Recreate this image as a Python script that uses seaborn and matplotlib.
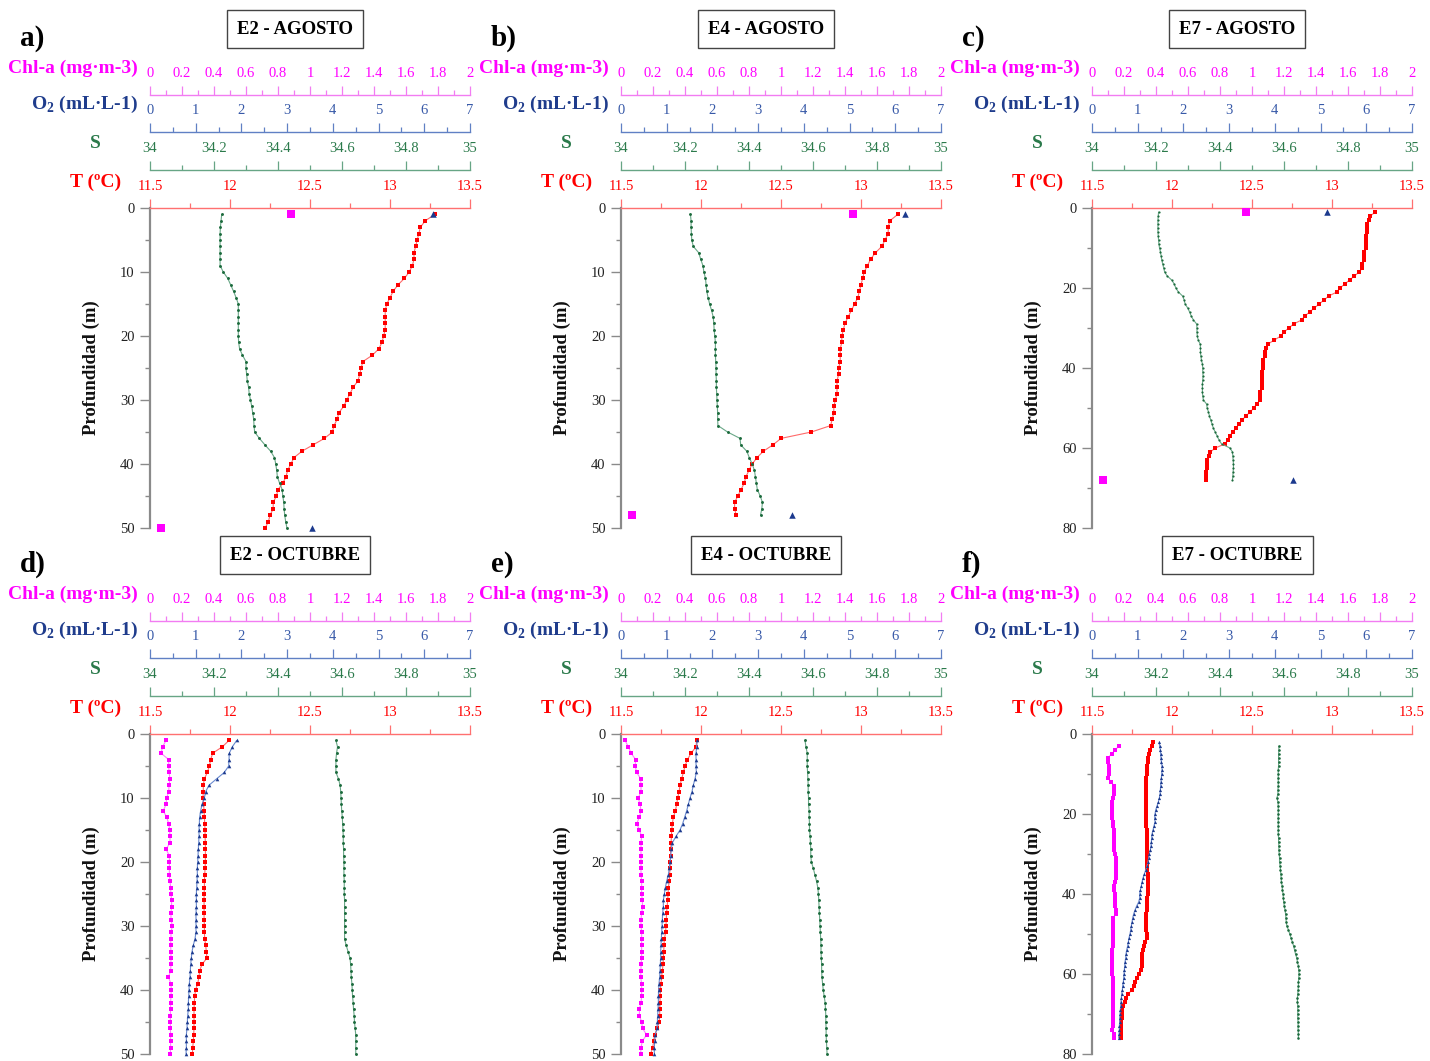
import matplotlib
matplotlib.use("Agg")
import matplotlib.pyplot as plt
from matplotlib.ticker import MultipleLocator, FuncFormatter
import seaborn as sns

sns.set_style("white")
plt.rcParams["font.family"] = ["Liberation Serif", "DejaVu Serif"]
plt.rcParams["mathtext.fontset"] = "custom"
plt.rcParams["mathtext.rm"] = "Liberation Serif"
plt.rcParams["mathtext.bf"] = "Liberation Serif:bold"

# ---------------- data ----------------
# E2 - AGOSTO  (CTD every 1 m, 1-50 m)
depth_a = list(range(1, 51))
temp_a = [13.28, 13.22, 13.19, 13.18, 13.17, 13.16, 13.15, 13.15, 13.14, 13.12,
          13.09, 13.05, 13.02, 13.00, 12.98, 12.97, 12.97, 12.97, 12.97, 12.96,
          12.95, 12.93, 12.89, 12.83, 12.82, 12.81, 12.80, 12.77, 12.75, 12.73,
          12.71, 12.68, 12.67, 12.65, 12.64, 12.59, 12.52, 12.45, 12.40, 12.38,
          12.36, 12.35, 12.33, 12.30, 12.29, 12.27, 12.27, 12.25, 12.24, 12.22]
sal_a = [34.224, 34.222, 34.220, 34.219, 34.219, 34.219, 34.219, 34.219, 34.219, 34.229,
         34.243, 34.252, 34.261, 34.269, 34.276, 34.276, 34.276, 34.276, 34.276, 34.276,
         34.277, 34.280, 34.289, 34.300, 34.300, 34.302, 34.304, 34.308, 34.310, 34.314,
         34.318, 34.321, 34.324, 34.325, 34.327, 34.342, 34.359, 34.377, 34.389, 34.393,
         34.396, 34.398, 34.405, 34.413, 34.415, 34.418, 34.419, 34.421, 34.424, 34.428]
bottle_depth_a = [1, 50]
oxy_a = [6.18, 3.54]
chl_a = [0.88, 0.07]

# E4 - AGOSTO  (1-48 m)
depth_b = list(range(1, 49))
temp_b = [13.23, 13.18, 13.17, 13.17, 13.15, 13.13, 13.09, 13.06, 13.04, 13.02,
          13.01, 13.00, 12.99, 12.98, 12.96, 12.94, 12.92, 12.90, 12.89, 12.88,
          12.88, 12.87, 12.87, 12.87, 12.86, 12.86, 12.85, 12.85, 12.85, 12.84,
          12.83, 12.83, 12.82, 12.81, 12.69, 12.50, 12.45, 12.39, 12.35, 12.32,
          12.30, 12.28, 12.27, 12.25, 12.23, 12.21, 12.21, 12.22]
sal_b = [34.217, 34.219, 34.219, 34.220, 34.221, 34.226, 34.243, 34.249, 34.256, 34.259,
         34.264, 34.266, 34.268, 34.272, 34.277, 34.283, 34.288, 34.290, 34.291, 34.293,
         34.295, 34.295, 34.295, 34.296, 34.297, 34.297, 34.298, 34.298, 34.299, 34.300,
         34.301, 34.302, 34.302, 34.303, 34.333, 34.372, 34.374, 34.393, 34.401, 34.410,
         34.417, 34.420, 34.423, 34.426, 34.435, 34.442, 34.440, 34.436]
bottle_depth_b = [1, 48]
oxy_b = [6.22, 3.75]
chl_b = [1.45, 0.07]

# E7 - AGOSTO  (1-68 m)
depth_c = list(range(1, 69))
temp_c = [13.27, 13.24, 13.23, 13.22, 13.22, 13.22, 13.21, 13.21, 13.21, 13.21,
          13.20, 13.20, 13.20, 13.19, 13.19, 13.17, 13.14, 13.11, 13.08, 13.05,
          13.03, 12.98, 12.95, 12.92, 12.89, 12.86, 12.83, 12.81, 12.76, 12.73,
          12.70, 12.68, 12.64, 12.60, 12.59, 12.58, 12.58, 12.57, 12.57, 12.57,
          12.56, 12.56, 12.56, 12.56, 12.56, 12.55, 12.55, 12.55, 12.53, 12.51,
          12.49, 12.46, 12.44, 12.42, 12.40, 12.38, 12.36, 12.35, 12.33, 12.27,
          12.24, 12.23, 12.22, 12.22, 12.22, 12.21, 12.21, 12.21]
sal_c = [34.208, 34.207, 34.206, 34.206, 34.206, 34.206, 34.207, 34.208, 34.209, 34.211,
         34.214, 34.216, 34.218, 34.221, 34.224, 34.227, 34.235, 34.249, 34.257, 34.262,
         34.270, 34.283, 34.288, 34.291, 34.299, 34.305, 34.310, 34.317, 34.327, 34.328,
         34.328, 34.329, 34.332, 34.338, 34.339, 34.339, 34.340, 34.342, 34.345, 34.346,
         34.346, 34.347, 34.346, 34.345, 34.345, 34.345, 34.346, 34.348, 34.358, 34.360,
         34.364, 34.367, 34.371, 34.375, 34.379, 34.385, 34.391, 34.397, 34.405, 34.431,
         34.439, 34.440, 34.441, 34.442, 34.442, 34.441, 34.440, 34.439]
bottle_depth_c = [1, 68]
oxy_c = [5.14, 4.40]
chl_c = [0.96, 0.07]

# E2 - OCTUBRE  (1-50 m)
depth_d = list(range(1, 51))
temp_d = [11.994, 11.952, 11.892, 11.879, 11.871, 11.858, 11.840, 11.833, 11.833, 11.831,
          11.835, 11.838, 11.840, 11.842, 11.844, 11.844, 11.846, 11.846, 11.846, 11.846,
          11.844, 11.842, 11.840, 11.840, 11.838, 11.838, 11.838, 11.838, 11.838, 11.840,
          11.840, 11.842, 11.848, 11.852, 11.856, 11.825, 11.810, 11.806, 11.798, 11.785,
          11.779, 11.777, 11.775, 11.775, 11.775, 11.775, 11.773, 11.771, 11.767, 11.765]
sal_d = [34.581, 34.586, 34.583, 34.581, 34.581, 34.581, 34.589, 34.594, 34.596, 34.597,
         34.598, 34.599, 34.601, 34.602, 34.603, 34.604, 34.604, 34.605, 34.605, 34.606,
         34.606, 34.606, 34.607, 34.607, 34.607, 34.608, 34.608, 34.608, 34.608, 34.608,
         34.608, 34.608, 34.613, 34.619, 34.625, 34.627, 34.628, 34.629, 34.631, 34.632,
         34.633, 34.635, 34.636, 34.638, 34.639, 34.641, 34.643, 34.643, 34.643, 34.643]
oxy_d = [1.896, 1.801, 1.735, 1.728, 1.721, 1.626, 1.458, 1.291, 1.218, 1.189,
         1.138, 1.108, 1.086, 1.079, 1.072, 1.072, 1.065, 1.057, 1.050, 1.043,
         1.035, 1.035, 1.028, 1.021, 1.014, 1.014, 1.014, 1.006, 1.006, 1.006,
         1.006, 0.984, 0.948, 0.919, 0.904, 0.890, 0.882, 0.875, 0.860, 0.853,
         0.846, 0.839, 0.839, 0.824, 0.817, 0.809, 0.795, 0.795, 0.795, 0.788]
chl_d = [0.100, 0.079, 0.069, 0.117, 0.117, 0.119, 0.125, 0.119, 0.117, 0.104,
         0.100, 0.083, 0.104, 0.117, 0.123, 0.125, 0.125, 0.100, 0.121, 0.121,
         0.121, 0.121, 0.125, 0.129, 0.131, 0.135, 0.135, 0.131, 0.131, 0.140,
         0.131, 0.131, 0.129, 0.131, 0.131, 0.131, 0.129, 0.115, 0.131, 0.133,
         0.131, 0.129, 0.129, 0.127, 0.127, 0.127, 0.129, 0.129, 0.129, 0.127]

# E4 - OCTUBRE  (1-50 m)
depth_e = list(range(1, 51))
temp_e = [11.973, 11.969, 11.938, 11.915, 11.900, 11.890, 11.879, 11.869, 11.863, 11.854,
          11.848, 11.840, 11.827, 11.821, 11.817, 11.815, 11.813, 11.810, 11.810, 11.808,
          11.806, 11.804, 11.802, 11.796, 11.794, 11.792, 11.788, 11.785, 11.783, 11.781,
          11.779, 11.771, 11.769, 11.767, 11.765, 11.763, 11.758, 11.754, 11.750, 11.746,
          11.744, 11.744, 11.742, 11.742, 11.738, 11.727, 11.710, 11.704, 11.698, 11.685]
sal_e = [34.575, 34.578, 34.582, 34.582, 34.582, 34.583, 34.584, 34.585, 34.585, 34.586,
         34.586, 34.588, 34.588, 34.589, 34.589, 34.591, 34.592, 34.593, 34.593, 34.595,
         34.601, 34.606, 34.611, 34.615, 34.617, 34.618, 34.619, 34.620, 34.621, 34.622,
         34.623, 34.624, 34.625, 34.625, 34.626, 34.627, 34.627, 34.628, 34.630, 34.632,
         34.635, 34.638, 34.639, 34.640, 34.640, 34.641, 34.641, 34.642, 34.643, 34.644]
oxy_e = [1.670, 1.655, 1.641, 1.641, 1.641, 1.648, 1.619, 1.582, 1.553, 1.509,
         1.473, 1.436, 1.393, 1.349, 1.291, 1.203, 1.123, 1.101, 1.087, 1.072,
         1.057, 1.035, 0.999, 0.970, 0.948, 0.926, 0.926, 0.911, 0.904, 0.897,
         0.890, 0.882, 0.875, 0.868, 0.868, 0.860, 0.853, 0.846, 0.831, 0.824,
         0.817, 0.817, 0.809, 0.802, 0.795, 0.788, 0.751, 0.736, 0.729, 0.729]
chl_e = [0.025, 0.046, 0.063, 0.092, 0.088, 0.098, 0.123, 0.125, 0.125, 0.108,
         0.119, 0.125, 0.115, 0.098, 0.115, 0.129, 0.125, 0.125, 0.125, 0.125,
         0.125, 0.125, 0.129, 0.129, 0.129, 0.133, 0.135, 0.129, 0.125, 0.125,
         0.129, 0.129, 0.129, 0.129, 0.129, 0.125, 0.125, 0.123, 0.129, 0.129,
         0.129, 0.125, 0.115, 0.115, 0.129, 0.135, 0.160, 0.133, 0.125, 0.123]

# E7 - OCTUBRE  (T, O2: 2-76 m ; S, Chl-a: 3-76 m)
depth_f_to = list(range(2, 77))
depth_f_sc = list(range(3, 77))
temp_f = [11.883, 11.873, 11.865, 11.856, 11.852, 11.848, 11.846, 11.844, 11.842, 11.840,
          11.838, 11.835, 11.835, 11.835, 11.835, 11.835, 11.838, 11.838, 11.838, 11.840,
          11.840, 11.840, 11.842, 11.844, 11.844, 11.844, 11.844, 11.844, 11.844, 11.844,
          11.846, 11.846, 11.846, 11.848, 11.848, 11.848, 11.848, 11.848, 11.848, 11.846,
          11.844, 11.842, 11.842, 11.840, 11.838, 11.838, 11.838, 11.840, 11.844, 11.844,
          11.831, 11.823, 11.817, 11.815, 11.813, 11.810, 11.810, 11.806, 11.794, 11.781,
          11.771, 11.763, 11.748, 11.727, 11.713, 11.704, 11.696, 11.690, 11.685, 11.685,
          11.683, 11.683, 11.683, 11.683, 11.681]
oxy_f = [1.473, 1.480, 1.495, 1.502, 1.509, 1.517, 1.531, 1.531, 1.524, 1.517,
         1.509, 1.502, 1.495, 1.488, 1.473, 1.451, 1.422, 1.393, 1.378, 1.371,
         1.378, 1.356, 1.334, 1.313, 1.305, 1.298, 1.291, 1.276, 1.254, 1.240,
         1.225, 1.203, 1.174, 1.145, 1.116, 1.094, 1.079, 1.057, 1.043, 1.043,
         1.021, 0.977, 0.941, 0.911, 0.890, 0.875, 0.860, 0.846, 0.831, 0.809,
         0.795, 0.780, 0.758, 0.744, 0.737, 0.722, 0.715, 0.707, 0.700, 0.693,
         0.685, 0.671, 0.664, 0.649, 0.642, 0.634, 0.627, 0.620, 0.613, 0.605,
         0.605, 0.598, 0.598, 0.591, 0.583]
sal_f = [34.584, 34.584, 34.583, 34.583, 34.583, 34.583, 34.582, 34.582, 34.582, 34.582,
         34.582, 34.581, 34.581, 34.578, 34.581, 34.582, 34.582, 34.582, 34.582, 34.582,
         34.582, 34.582, 34.582, 34.583, 34.583, 34.584, 34.584, 34.585, 34.586, 34.586,
         34.588, 34.589, 34.590, 34.591, 34.592, 34.594, 34.595, 34.597, 34.598, 34.599,
         34.601, 34.603, 34.605, 34.606, 34.607, 34.609, 34.614, 34.618, 34.622, 34.626,
         34.630, 34.633, 34.636, 34.640, 34.642, 34.645, 34.646, 34.647, 34.646, 34.645,
         34.645, 34.644, 34.643, 34.642, 34.642, 34.643, 34.643, 34.643, 34.643, 34.644,
         34.644, 34.644, 34.645, 34.645]
chl_f = [0.169, 0.144, 0.123, 0.098, 0.102, 0.106, 0.106, 0.106, 0.102, 0.119,
         0.140, 0.140, 0.135, 0.131, 0.127, 0.123, 0.123, 0.127, 0.127, 0.131,
         0.131, 0.135, 0.135, 0.135, 0.135, 0.140, 0.140, 0.144, 0.148, 0.148,
         0.148, 0.152, 0.152, 0.148, 0.144, 0.140, 0.140, 0.144, 0.144, 0.144,
         0.146, 0.148, 0.148, 0.131, 0.131, 0.131, 0.131, 0.131, 0.131, 0.129,
         0.129, 0.127, 0.127, 0.127, 0.127, 0.127, 0.127, 0.127, 0.129, 0.129,
         0.131, 0.131, 0.131, 0.131, 0.131, 0.131, 0.133, 0.133, 0.133, 0.133,
         0.129, 0.127, 0.135, 0.140]

# ---------------- style ----------------
T_COL, T_AX, T_LINE = "#ff0000", "#ff7070", "#ff6a6a"
S_COL, S_AX, S_LINE, S_MK = "#2b7a4b", "#67a585", "#6aa888", "#1b6a3c"
O_COL, O_TXT, O_AX, O_LINE, O_MK = "#1f3c8c", "#3759a8", "#6080c4", "#6a8ad0", "#1c3a8e"
C_COL, C_AX, C_LINE = "#ff00ff", "#f27cf2", "#ff80ff"

W, H = 1430, 1061
fig = plt.figure(figsize=(W / 100, H / 100), dpi=100)
fmt = FuncFormatter(lambda v, p: f"{round(v, 3):g}")


def top_scale(ax, lim, major, minor, line_col, text_col, offset):
    ax.set_xlim(*lim)
    for side in ("left", "right", "bottom"):
        ax.spines[side].set_visible(False)
    ax.spines["top"].set_visible(True)
    ax.spines["top"].set_color(line_col)
    ax.spines["top"].set_linewidth(1.0)
    ax.spines["top"].set_position(("outward", offset))
    ax.xaxis.set_ticks_position("top")
    ax.xaxis.set_major_locator(MultipleLocator(major))
    ax.xaxis.set_minor_locator(MultipleLocator(minor))
    ax.xaxis.set_major_formatter(fmt)
    ax.tick_params(axis="x", which="major", direction="out", length=6.5, width=0.9,
                   color=line_col, labelcolor=text_col, labelsize=10.5, pad=4)
    ax.tick_params(axis="x", which="minor", direction="out", length=3.5, width=0.9,
                   color=line_col)
    ax.set_xlabel("")
    ax.set_ylabel("")


def profile(ax, x, y, line_col, mk_col, marker, ms):
    sns.lineplot(x=x, y=y, ax=ax, sort=False, estimator=None, color=line_col,
                 linewidth=0.8, marker=marker, markersize=ms, markerfacecolor=mk_col,
                 markeredgecolor=mk_col, markeredgewidth=0, clip_on=False)


def panel(left, top, letter, title, dmax, dstep, temp, sal, oxy, chl, bottles, ms):
    ax = fig.add_axes([left / W, 1 - (top + 320) / H, 320 / W, 320 / H])
    ax_s = ax.twiny()
    ax_o = ax.twiny()
    ax_c = ax.twiny()

    profile(ax, temp[1], temp[0], T_LINE, T_COL, "s", 3.0 * ms)
    profile(ax_s, sal[1], sal[0], S_LINE, S_MK, "o", 2.1 * ms)
    if bottles:
        sns.scatterplot(x=oxy[1], y=oxy[0], ax=ax_o, marker="^", s=22, color=O_MK,
                        linewidth=0, clip_on=False)
        sns.scatterplot(x=chl[1], y=chl[0], ax=ax_c, marker="s", s=26, color=C_COL,
                        linewidth=0, clip_on=False)
    else:
        profile(ax_o, oxy[1], oxy[0], O_LINE, O_MK, "^", 2.6 * ms)
        profile(ax_c, chl[1], chl[0], C_LINE, C_COL, "s", 2.8 * ms)

    top_scale(ax, (11.5, 13.5), 0.5, 0.25, T_AX, T_COL, 0)
    top_scale(ax_s, (34, 35), 0.2, 0.1, S_AX, S_COL, 27.4)
    top_scale(ax_o, (0, 7), 1, 0.5, O_AX, O_TXT, 54.7)
    top_scale(ax_c, (0, 2), 0.2, 0.1, C_AX, C_COL, 81.4)

    ax.set_ylim(dmax, 0)
    ax.spines["left"].set_visible(True)
    ax.spines["left"].set_color("#8a8a8a")
    ax.spines["left"].set_linewidth(1.6)
    ax.yaxis.set_ticks_position("left")
    ax.yaxis.set_major_locator(MultipleLocator(dstep))
    ax.yaxis.set_minor_locator(MultipleLocator(dstep / 2))
    ax.tick_params(axis="y", which="major", direction="out", length=7, width=1.0,
                   color="#8a8a8a", labelcolor="#222222", labelsize=10.5, pad=4)
    ax.tick_params(axis="y", which="minor", direction="out", length=3.5, width=1.0,
                   color="#8a8a8a")
    ax.set_ylabel("Profundidad (m)", fontsize=13.5, fontweight="bold", color="#111111")
    ax.yaxis.set_label_coords(-50 / 320, 0.5)

    # left-hand scale names
    fig.text((left - 12) / W, 1 - (top - 140) / H, "Chl-a (mg·m-3)", ha="right",
             va="center", fontsize=14, fontweight="bold", color=C_COL)
    fig.text((left - 12) / W, 1 - (top - 104) / H, r"O$_\mathbf{2}$ (mL·L-1)", ha="right",
             va="center", fontsize=14, fontweight="bold", color=O_COL)
    fig.text((left - 55) / W, 1 - (top - 64) / H, "S", ha="center",
             va="center", fontsize=14, fontweight="bold", color=S_COL)
    fig.text((left - 54) / W, 1 - (top - 26) / H, "T (ºC)", ha="center",
             va="center", fontsize=14, fontweight="bold", color=T_COL)

    fig.text((left - 130) / W, 1 - (top - 170) / H, letter, ha="left", va="center",
             fontsize=21, fontweight="bold", color="black")
    fig.text((left + 145) / W, 1 - (top - 179) / H, title, ha="center", va="center",
             fontsize=13.5, fontweight="bold", color="black",
             bbox=dict(boxstyle="square,pad=0.55", fc="white", ec="#444444", lw=1.0))


panel(150, 208, "a)", "E2 - AGOSTO", 50, 10, (depth_a, temp_a), (depth_a, sal_a),
      (bottle_depth_a, oxy_a), (bottle_depth_a, chl_a), True, 1.0)
panel(621, 208, "b)", "E4 - AGOSTO", 50, 10, (depth_b, temp_b), (depth_b, sal_b),
      (bottle_depth_b, oxy_b), (bottle_depth_b, chl_b), True, 1.0)
panel(1092, 208, "c)", "E7 - AGOSTO", 80, 20, (depth_c, temp_c), (depth_c, sal_c),
      (bottle_depth_c, oxy_c), (bottle_depth_c, chl_c), True, 0.75)
panel(150, 734, "d)", "E2 - OCTUBRE", 50, 10, (depth_d, temp_d), (depth_d, sal_d),
      (depth_d, oxy_d), (depth_d, chl_d), False, 1.0)
panel(621, 734, "e)", "E4 - OCTUBRE", 50, 10, (depth_e, temp_e), (depth_e, sal_e),
      (depth_e, oxy_e), (depth_e, chl_e), False, 1.0)
panel(1092, 734, "f)", "E7 - OCTUBRE", 80, 20, (depth_f_to, temp_f), (depth_f_sc, sal_f),
      (depth_f_to, oxy_f), (depth_f_sc, chl_f), False, 0.88)

fig.savefig("out.png", dpi=100)
